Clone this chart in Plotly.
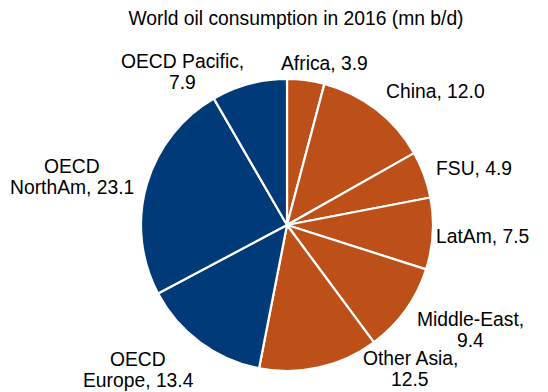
import plotly.graph_objects as go

categories = ["Africa", "China", "FSU", "LatAm", "Middle-East", "Other Asia",
              "OECD Europe", "OECD NorthAm", "OECD Pacific"]
values = [3.9, 12.0, 4.9, 7.5, 9.4, 12.5, 13.4, 23.1, 7.9]
label_lines = [["Africa, {v}"], ["China, {v}"], ["FSU, {v}"], ["LatAm, {v}"],
               ["Middle-East,", "{v}"], ["Other Asia,", "{v}"],
               ["OECD", "Europe, {v}"], ["OECD", "NorthAm, {v}"],
               ["OECD Pacific,", "{v}"]]

# label centres (pixels in the 548x392 canvas)
label_pos = [(324, 64), (435, 92), (474, 168), (482, 237), (470, 330),
             (410, 369), (138, 370), (72, 177), (182, 72)]

W, H = 548, 392
L, R, T, B = 137, 111, 79, 21
FONT = "Liberation Sans, Arial, sans-serif"
FS = 19.3
LINE = 21

orange = "#BD5019"
blue = "#003A78"
colors = [orange] * 6 + [blue] * 3

fig = go.Figure(go.Pie(
    labels=categories, values=values, textinfo="none",
    sort=False, direction="clockwise", rotation=0,
    marker=dict(colors=colors, line=dict(color="white", width=2.2)),
    showlegend=False, hoverinfo="label+value",
))

pw, ph = W - L - R, H - T - B
annotations = []
for lines, v, (cx, cy) in zip(label_lines, values, label_pos):
    n = len(lines)
    for i, ln in enumerate(lines):
        py = cy + (i - (n - 1) / 2) * LINE
        annotations.append(dict(
            text=ln.format(v=f"{v:.1f}"), xref="paper", yref="paper",
            x=(cx - L) / pw, y=(H - B - py) / ph,
            xanchor="center", yanchor="middle", showarrow=False,
            font=dict(family=FONT, size=FS, color="#000000")))

fig.update_layout(
    width=W, height=H,
    margin=dict(l=L, r=R, t=T, b=B),
    paper_bgcolor="white", plot_bgcolor="white",
    annotations=annotations,
    title=dict(text="World oil consumption in 2016 (mn b/d)",
               x=296 / W, xanchor="center", y=1 - 18 / H, yanchor="middle",
               font=dict(family=FONT, size=FS, color="#000000")),
)
fig.write_html("out.html", config={"displayModeBar": False},
               post_script="document.body.style.margin='0';document.body.style.overflow='hidden';")
